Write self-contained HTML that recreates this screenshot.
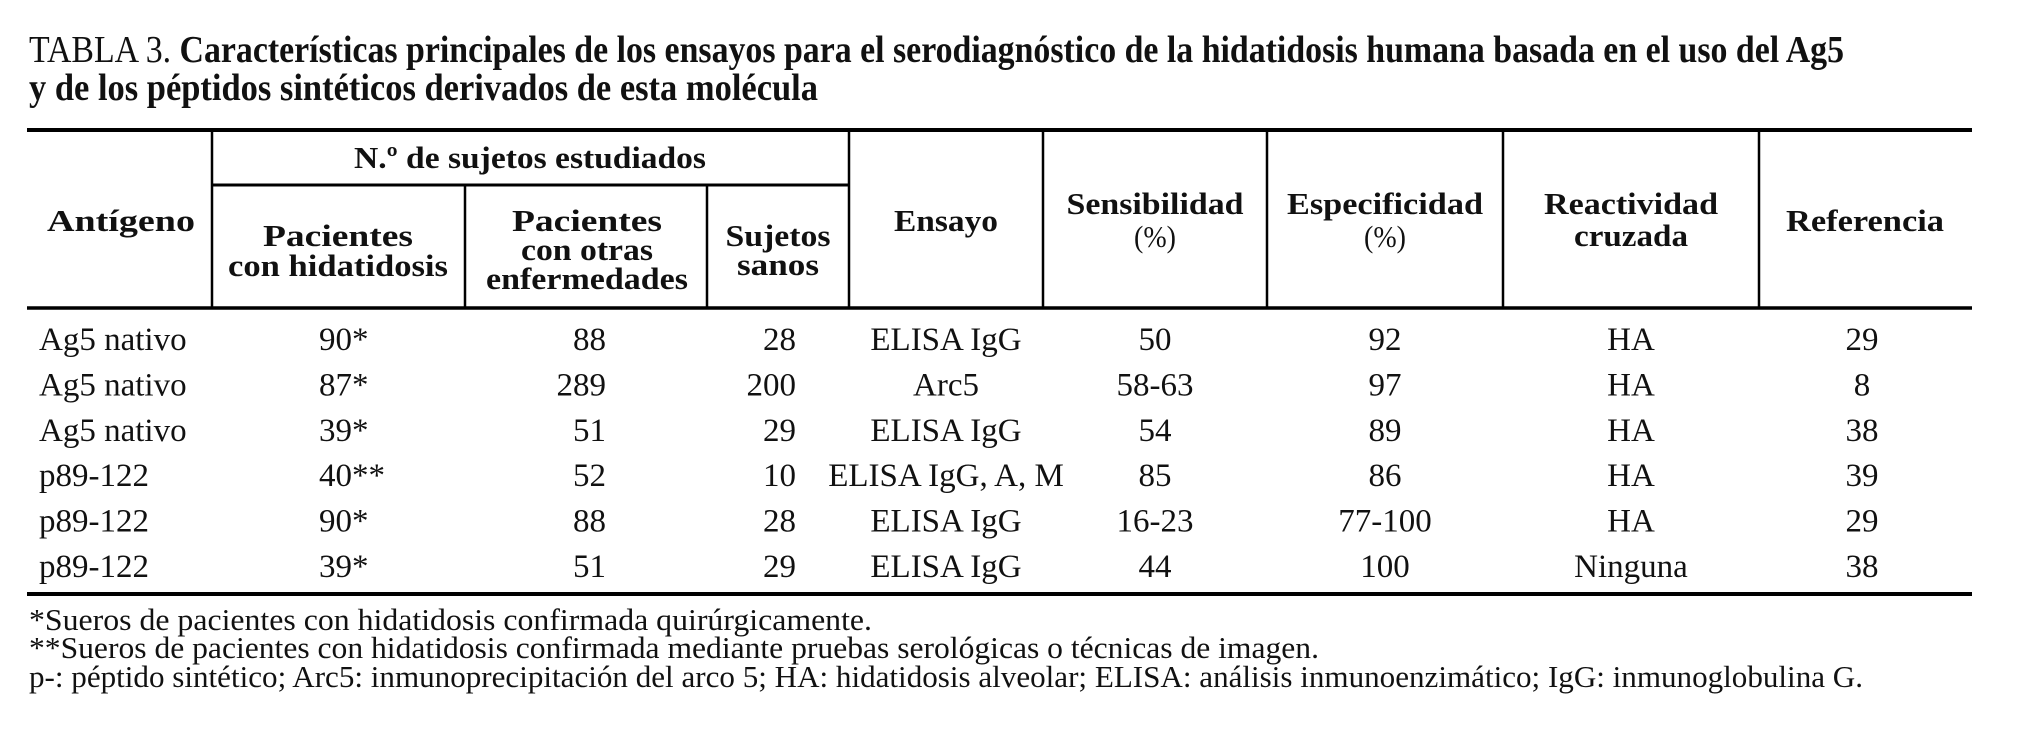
<!DOCTYPE html>
<html><head><meta charset="utf-8"><style>
html,body{margin:0;padding:0;background:#fff;}
svg{display:block;}
text{font-family:"Liberation Serif",serif;fill:#111;}
.h{font-weight:bold;font-size:31px;}
.d{font-size:33px;}
.f{font-size:31px;}
</style></head><body>
<svg id="tbl" width="2018" height="746" viewBox="0 0 2018 746" xmlns="http://www.w3.org/2000/svg">
<g>
<text x="29" y="62" font-size="38" textLength="1815" lengthAdjust="spacingAndGlyphs">TABLA 3. <tspan font-weight="bold">Características principales de los ensayos para el serodiagnóstico de la hidatidosis humana basada en el uso del Ag5</tspan></text>
<text x="29" y="100" font-size="38" font-weight="bold" textLength="789" lengthAdjust="spacingAndGlyphs">y de los péptidos sintéticos derivados de esta molécula</text>
</g>
<g stroke="#000">
<line x1="27" y1="130" x2="1972" y2="130" stroke-width="4"/>
<line x1="212" y1="185" x2="849" y2="185" stroke-width="3"/>
<line x1="27" y1="308" x2="1972" y2="308" stroke-width="3.5"/>
<line x1="27" y1="594" x2="1972" y2="594" stroke-width="4"/>
<line x1="212" y1="130" x2="212" y2="308" stroke-width="2.5"/>
<line x1="465" y1="185" x2="465" y2="308" stroke-width="2.5"/>
<line x1="707" y1="185" x2="707" y2="308" stroke-width="2.5"/>
<line x1="849" y1="130" x2="849" y2="308" stroke-width="2.5"/>
<line x1="1043" y1="130" x2="1043" y2="308" stroke-width="2.5"/>
<line x1="1267" y1="130" x2="1267" y2="308" stroke-width="2.5"/>
<line x1="1503" y1="130" x2="1503" y2="308" stroke-width="2.5"/>
<line x1="1759" y1="130" x2="1759" y2="308" stroke-width="2.5"/>
</g>
<g text-anchor="middle">
<text class="h" x="121" y="231" textLength="148" lengthAdjust="spacingAndGlyphs">Antígeno</text>
<text class="h" x="530" y="168" textLength="352" lengthAdjust="spacingAndGlyphs">N.º de sujetos estudiados</text>
<text class="h" x="338" y="246" textLength="150" lengthAdjust="spacingAndGlyphs">Pacientes</text>
<text class="h" x="338" y="276" textLength="220" lengthAdjust="spacingAndGlyphs">con hidatidosis</text>
<text class="h" x="587" y="231" textLength="150" lengthAdjust="spacingAndGlyphs">Pacientes</text>
<text class="h" x="587" y="260" textLength="132" lengthAdjust="spacingAndGlyphs">con otras</text>
<text class="h" x="587" y="289" textLength="202" lengthAdjust="spacingAndGlyphs">enfermedades</text>
<text class="h" x="778" y="246" textLength="105" lengthAdjust="spacingAndGlyphs">Sujetos</text>
<text class="h" x="778" y="275" textLength="82" lengthAdjust="spacingAndGlyphs">sanos</text>
<text class="h" x="946" y="231" textLength="104" lengthAdjust="spacingAndGlyphs">Ensayo</text>
<text class="h" x="1155" y="214" textLength="177" lengthAdjust="spacingAndGlyphs">Sensibilidad</text>
<text class="f" x="1155" y="247" textLength="42" lengthAdjust="spacingAndGlyphs">(%)</text>
<text class="h" x="1385" y="214" textLength="196" lengthAdjust="spacingAndGlyphs">Especificidad</text>
<text class="f" x="1385" y="247" textLength="42" lengthAdjust="spacingAndGlyphs">(%)</text>
<text class="h" x="1631" y="214" textLength="174" lengthAdjust="spacingAndGlyphs">Reactividad</text>
<text class="h" x="1631" y="246" textLength="114" lengthAdjust="spacingAndGlyphs">cruzada</text>
<text class="h" x="1865" y="231" textLength="158" lengthAdjust="spacingAndGlyphs">Referencia</text>
</g>
<g id="body"></g>
<g>
<text class="f" x="29" y="630" textLength="843" lengthAdjust="spacingAndGlyphs">*Sueros de pacientes con hidatidosis confirmada quirúrgicamente.</text>
<text class="f" x="29" y="658" textLength="1290" lengthAdjust="spacingAndGlyphs">**Sueros de pacientes con hidatidosis confirmada mediante pruebas serológicas o técnicas de imagen.</text>
<text class="f" x="29" y="687" textLength="1834" lengthAdjust="spacingAndGlyphs">p-: péptido sintético; Arc5: inmunoprecipitación del arco 5; HA: hidatidosis alveolar; ELISA: análisis inmunoenzimático; IgG: inmunoglobulina G.</text>
</g>
</svg>
<script>
const antigeno = ["Ag5 nativo","Ag5 nativo","Ag5 nativo","p89-122","p89-122","p89-122"];
const hidatidosis = ["90*","87*","39*","40**","90*","39*"];
const otras = ["88","289","51","52","88","51"];
const sanos = ["28","200","29","10","28","29"];
const ensayo = ["ELISA IgG","Arc5","ELISA IgG","ELISA IgG, A, M","ELISA IgG","ELISA IgG"];
const sensibilidad = ["50","58-63","54","85","16-23","44"];
const especificidad = ["92","97","89","86","77-100","100"];
const reactividad = ["HA","HA","HA","HA","HA","Ninguna"];
const referencia = ["29","8","38","39","29","38"];

const NS = "http://www.w3.org/2000/svg";
const body = document.getElementById('body');
const cols = [
  {v:antigeno, x:39, a:"start", n:"antigeno"},
  {v:hidatidosis, x:319, a:"start", n:"hidatidosis"},
  {v:otras, x:606, a:"end", n:"otras-enfermedades"},
  {v:sanos, x:796, a:"end", n:"sujetos-sanos"},
  {v:ensayo, x:946, a:"middle", n:"ensayo"},
  {v:sensibilidad, x:1155, a:"middle", n:"sensibilidad"},
  {v:especificidad, x:1385, a:"middle", n:"especificidad"},
  {v:reactividad, x:1631, a:"middle", n:"reactividad"},
  {v:referencia, x:1862, a:"middle", n:"referencia"}
];
function rowY(i){ return 350 + i*45.4; }
for (let i=0;i<antigeno.length;i++){
  const g = document.createElementNS(NS,'g');
  
  
  cols.forEach(c=>{
    const t = document.createElementNS(NS,'text');
    
    
    t.setAttribute('class','d');
    t.setAttribute('x', c.x);
    t.setAttribute('y', rowY(i));
    t.setAttribute('text-anchor', c.a);
    t.textContent = c.v[i];
    g.appendChild(t);
  });
  body.appendChild(g);
}
</script>
</body></html>
